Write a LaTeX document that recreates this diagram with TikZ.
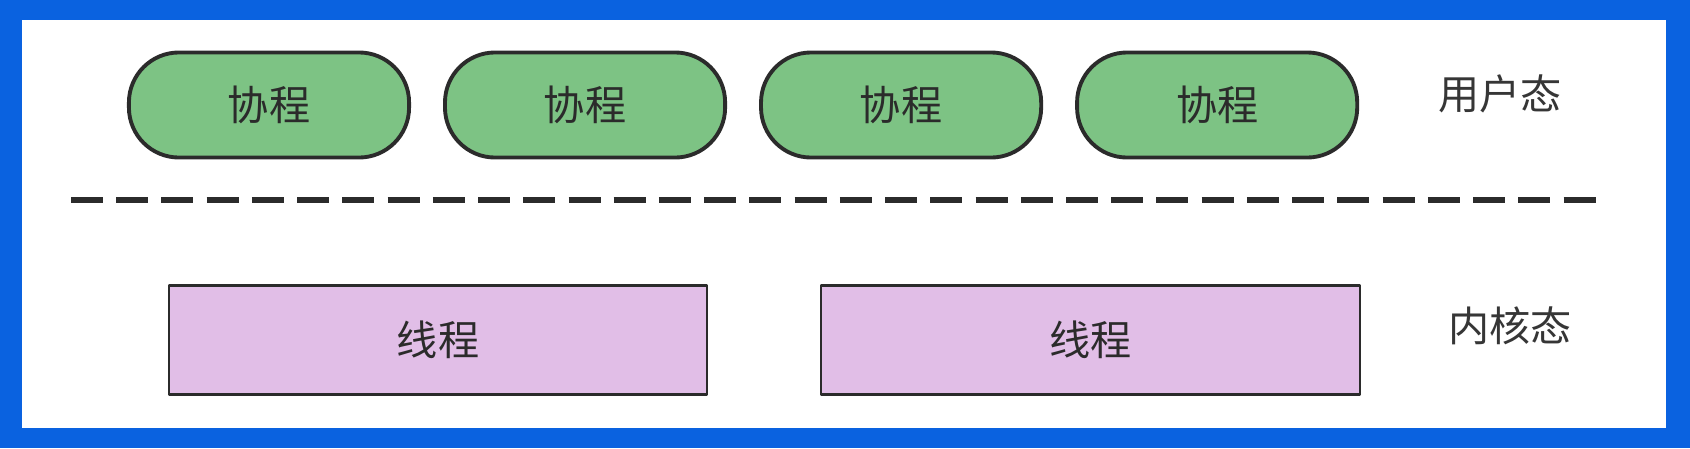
\documentclass[tikz,border=0pt]{standalone}
\usepackage{fontspec}
\setmainfont{Noto Sans CJK SC}
\usetikzlibrary{positioning}
\definecolor{framebl}{HTML}{0A62E0}
\definecolor{corogreen}{HTML}{7DC384}
\definecolor{thrpurple}{HTML}{E1BEE7}
\definecolor{inkgray}{HTML}{2B2B2B}
\begin{document}
\begin{tikzpicture}[x=0.01cm,y=-0.01cm,line join=round,font=\fontsize{11.7}{14}\selectfont,
	coro/.style={draw=inkgray,line width=1.1pt,fill=corogreen,rounded corners=0.5cm,minimum width=2.80cm,minimum height=1.05cm,text=inkgray},
	thr/.style={draw=inkgray,line width=0.6pt,fill=thrpurple,minimum width=5.38cm,minimum height=1.09cm,text=inkgray},
	lbl/.style={text=inkgray!95}]
			\def \gapc{0.32cm};
			\def \gapt{1.12cm};
			\fill[framebl] (0,0) rectangle (1690,448);
			\fill[white] (22,20) rectangle (1666,428);
			% user level
			\node[coro] (c1) at (269,105) {协程};
			\node[coro,right=\gapc of c1] (c2) {协程};
			\node[coro,right=\gapc of c2] (c3) {协程};
			\node[coro,right=\gapc of c3] (c4) {协程};
			\node[lbl] (user) at (1500,94) {用户态};
			% separator
			\coordinate (sepL) at (71,200);
			\coordinate (sepR) at (1603,200);
			\draw[inkgray,line width=1.7pt,dash pattern=on 0.32cm off 0.132cm] (sepL)--(sepR);
			% kernel level
			\node[thr] (t1) at (438,340) {线程};
			\node[thr,right=\gapt of t1] (t2) {线程};
			\node[lbl] (kern) at (1510,326) {内核态};
		\end{tikzpicture}
\end{document}
